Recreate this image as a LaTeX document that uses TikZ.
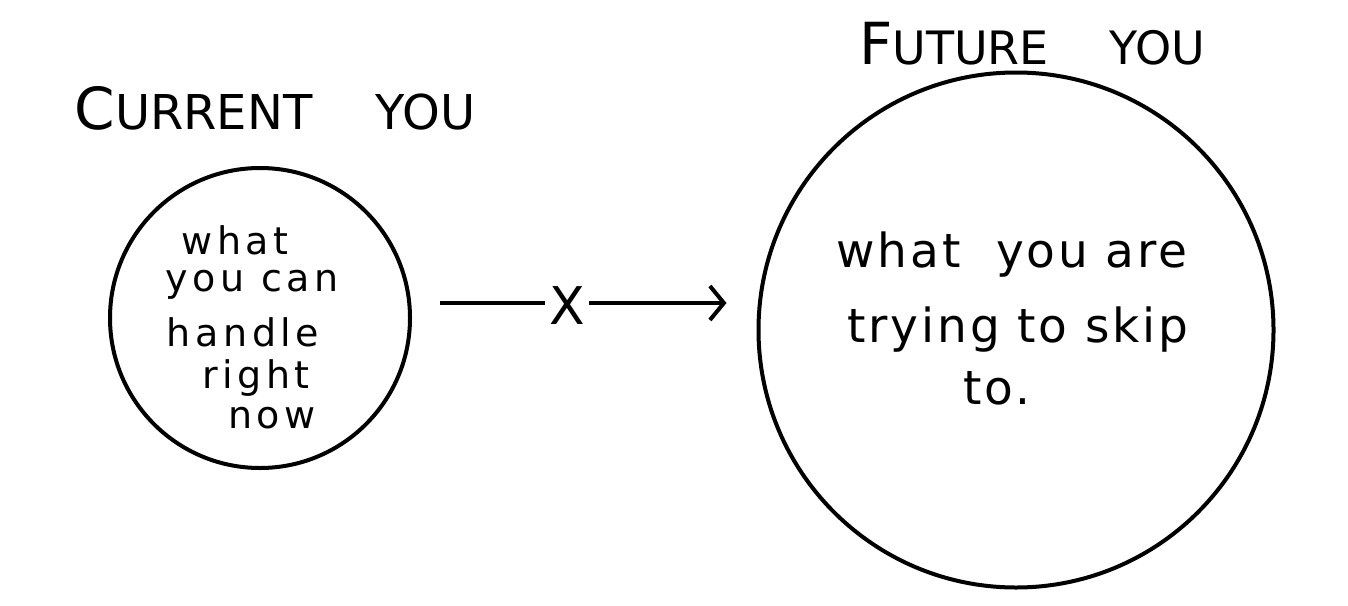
\documentclass[tikz,border=0pt]{standalone}
\usepackage{fontspec}
\setmainfont{DejaVu Sans}
\usetikzlibrary{arrows.meta}
\begin{document}
\begin{tikzpicture}[x=1pt,y=-1pt,line width=4pt,
  ring/.style={circle,draw,inner sep=0pt},
  hand/.style={inner sep=0pt,font=\fontsize{38}{40}\selectfont\addfontfeature{LetterSpace=12}},
  bighand/.style={inner sep=0pt,font=\fontsize{47}{50}\selectfont\addfontfeature{LetterSpace=6}},
  title/.style={inner sep=0pt,font=\fontsize{58}{62}\selectfont}]
\useasboundingbox[fill=white] (0,0) rectangle (1348,605);
% titles
\node[title] (tcur) at (275,108) {C{\fontsize{48}{52}\selectfont URRENT\quad\ YOU}};
\node[title] (tfut) at (1032,44) {F{\fontsize{46}{50}\selectfont UTURE\quad\ YOU}};
% circles
\node[ring,minimum size=300pt] (cur) at (260,318) {};
\node[ring,minimum size=515pt] (fut) at (1016,330) {};
% small circle text
\node[hand] (l1) at (235,240) {what};
\node[hand] (l2) at (252,285) {you can};
\node[hand] (l3) at (243,332) {handle};
\node[hand] (l4) at (256,378) {right};
\node[hand] (l5) at (272,418) {now};
% big circle text
\node[bighand] (b1) at (1012,255) {what\ \ you are};
\node[bighand] (b2) at (1018,330) {trying to skip};
\node[bighand] (b3) at (997,388) {to.};
% arrow with X
\coordinate (a1) at (440,303);
\node[inner sep=2pt,font=\fontsize{52}{56}\selectfont] (x) at (567,306) {X};
\draw (a1) -- (x.west |- a1);
\draw[-{Straight Barb[length=14pt,width=34pt]}] (x.east |- a1) -- ([xshift=-30pt]fut.west |- a1);
\end{tikzpicture}
\end{document}
